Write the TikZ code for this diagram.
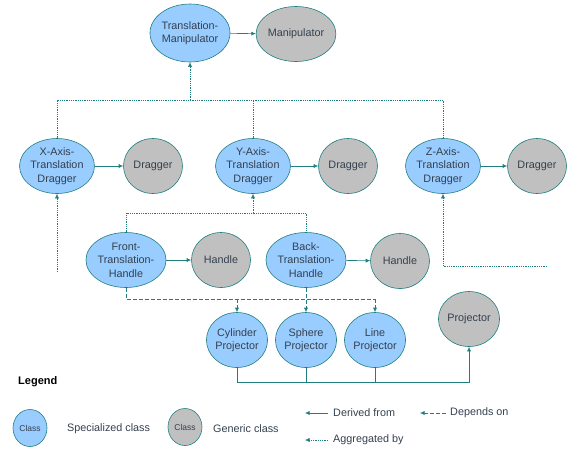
\documentclass[tikz,border=0pt]{standalone}
\usepackage{fontspec}
\setmainfont{Liberation Sans}
\usetikzlibrary{arrows.meta,shapes.geometric}
\definecolor{specfill}{HTML}{99CCFF}
\definecolor{genfill}{HTML}{C0C0C0}
\definecolor{wire}{HTML}{1F7F80}
\definecolor{ink}{HTML}{34404E}
\tikzset{
  cls/.style={ellipse, draw=wire, line width=0.6pt, inner sep=0pt, minimum width=59pt, minimum height=55pt, align=center, text=ink, font=\fontsize{10.8}{13.5}\selectfont},
  speccls/.style={cls, fill=specfill},
  gencls/.style={cls, fill=genfill},
  tip/.style={-{Latex[length=4.5pt,width=4pt]}},
  drv/.style={draw=wire, line width=0.6pt},
  agg/.style={draw=wire, line width=0.5pt, dash pattern=on 0.8pt off 1pt},
  dep/.style={draw=wire, line width=0.6pt, dash pattern=on 4pt off 2pt},
  lbl/.style={anchor=west, inner sep=0pt, text=ink, font=\fontsize{10.8}{12}\selectfont}
}
\begin{document}
\begin{tikzpicture}[x=1pt,y=-1pt]
\useasboundingbox (0,0) rectangle (567,448);

% manipulator
\node[speccls, minimum height=58pt, minimum width=58pt] (tm) at (190,33) {Translation-\\Manipulator};
\node[gencls] (manip) at (296,34) {Manipulator};
\draw[drv,tip] (tm) -- (manip);

% draggers
\node[speccls] (xaxis) at (57,166) {X-Axis-\\Translation\\Dragger};
\node[gencls] (xdrag) at (153,166) {Dragger};
\node[speccls] (yaxis) at (253,166) {Y-Axis-\\Translation\\Dragger};
\node[gencls] (ydrag) at (348,166) {Dragger};
\node[speccls] (zaxis) at (443,166) {Z-Axis-\\Translation\\Dragger};
\node[gencls] (zdrag) at (537,166) {Dragger};
\draw[drv,tip] (xaxis) -- (xdrag);
\draw[drv,tip] (yaxis) -- (ydrag);
\draw[drv,tip] (zaxis) -- (zdrag);

\coordinate (bus) at (190,100);
\draw[agg] (xaxis.north) |- (zaxis.north |- bus) -- (zaxis.north);
\draw[agg] (yaxis.north) -- (yaxis.north |- bus);
\draw[agg,tip] (bus) -- (tm.south);

\coordinate (xfree) at (57,272);
\coordinate (zfree) at (547,266);
\draw[agg,tip] (xfree) -- (xaxis.south);
\draw[agg,tip] (zfree) -| (zaxis.south);

% handles
\node[speccls] (front) at (126,260) {Front-\\Translation-\\Handle};
\node[gencls] (fhandle) at (221,260) {Handle};
\node[speccls] (back) at (306,260) {Back-\\Translation-\\Handle};
\node[gencls] (bhandle) at (400,261) {Handle};
\draw[drv,tip] (front) -- (fhandle);
\draw[drv,tip] (back) -- (bhandle);

\coordinate (ybus) at (253,213);
\draw[agg] (front.north) |- (back.north |- ybus) -- (back.north);
\draw[agg,tip] (ybus) -- (yaxis.south);

% projectors
\node[speccls] (cyl) at (237,340) {Cylinder\\Projector};
\node[speccls] (sphere) at (306,340) {Sphere\\Projector};
\node[speccls] (line) at (375,340) {Line\\Projector};
\node[gencls] (proj) at (469,319) {Projector};

\coordinate (dbus) at (126,299);
\draw[dep] (front.south) |- (line.north |- dbus);
\draw[dep,tip] (cyl.north |- dbus) -- (cyl.north);
\draw[dep,tip] (back.south) -- (sphere.north);
\draw[dep,tip] (line.north |- dbus) -- (line.north);

\coordinate (pbus) at (237,382);
\draw[drv,tip] (cyl.south) |- (proj.south |- pbus) -- (proj.south);
\draw[drv] (sphere.south) -- (sphere.south |- pbus);
\draw[drv] (line.south) -- (line.south |- pbus);

% legend
\node[lbl, text=black, font=\fontsize{11}{12}\bfseries] (legend) at (18,382) {Legend};
\node[speccls, minimum width=34pt, minimum height=37pt, font=\fontsize{8.5}{9}\selectfont] (lspec) at (30,428) {Class};
\node[lbl] (lspectext) at (67,429) {Specialized class};
\node[gencls, minimum width=34pt, minimum height=37pt, font=\fontsize{8.5}{9}\selectfont] (lgen) at (185,427) {Class};
\node[lbl] (lgentext) at (213,429) {Generic class};
\node[lbl] (lderived) at (333,413) {Derived from};
\node[lbl] (ldepends) at (450,413) {Depends on};
\node[lbl] (laggr) at (333,440) {Aggregated by};
\draw[drv,tip] ([xshift=-5pt]lderived.west) -- ++(-23,0);
\draw[dep,tip] ([xshift=-4pt]ldepends.west) -- ++(-26,0);
\draw[agg,tip] ([xshift=-5pt]laggr.west) -- ++(-23,0);
\end{tikzpicture}
\end{document}
